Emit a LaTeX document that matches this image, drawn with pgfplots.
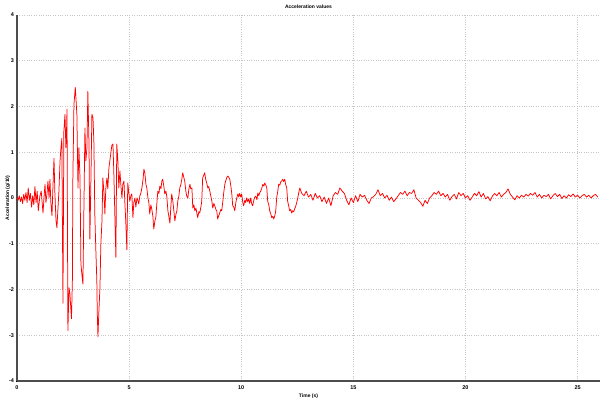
\documentclass[border=0pt]{standalone}
\usepackage{pgfplots}
\pgfplotsset{compat=1.18}
\usepackage{fontspec}
\setmainfont{Liberation Sans}
\pgfplotstableread{
t y
0.00 0.00
0.05 -0.05
0.10 0.05
0.15 -0.08
0.20 0.02
0.25 -0.12
0.30 0.08
0.35 -0.05
0.40 0.12
0.45 -0.10
0.50 0.22
0.55 -0.05
0.60 0.10
0.65 -0.20
0.70 0.05
0.75 -0.15
0.80 0.25
0.85 -0.10
0.90 0.15
0.95 -0.28
1.02 0.04
1.08 0.15
1.16 -0.33
1.21 0.05
1.25 0.30
1.29 -0.10
1.34 0.10
1.38 0.37
1.43 0.00
1.47 0.41
1.51 -0.10
1.56 -0.39
1.60 0.20
1.65 0.87
1.69 0.10
1.74 -0.50
1.78 -0.65
1.83 -0.20
1.87 0.15
1.92 0.81
1.96 1.10
2.00 1.30
2.05 -2.30
2.09 1.46
2.14 1.83
2.18 1.10
2.20 1.25
2.23 1.94
2.27 -2.90
2.32 -1.96
2.36 -2.10
2.43 -2.64
2.47 -1.80
2.49 0.37
2.54 2.05
2.60 2.42
2.67 1.83
2.72 0.22
2.76 1.10
2.81 0.44
2.85 -1.44
2.90 -1.70
2.94 -1.88
3.03 1.53
3.07 0.81
3.12 1.10
3.16 2.33
3.21 1.20
3.25 -0.90
3.30 0.50
3.34 1.83
3.39 1.75
3.43 1.20
3.47 -0.35
3.52 -1.20
3.56 -1.80
3.58 -2.50
3.61 -3.03
3.65 -2.50
3.70 -1.96
3.74 -1.00
3.79 -0.50
3.83 0.44
3.88 0.10
3.92 -0.35
3.96 0.20
4.01 0.44
4.05 0.20
4.10 0.66
4.14 0.81
4.19 1.00
4.23 1.15
4.28 1.18
4.32 0.52
4.37 -0.50
4.41 -1.30
4.45 1.18
4.50 0.80
4.54 0.22
4.59 0.59
4.63 0.30
4.68 0.00
4.72 0.30
4.77 0.37
4.81 -0.10
4.85 -0.50
4.90 -1.13
4.94 0.33
4.99 0.10
5.03 -0.07
5.08 0.05
5.12 0.09
5.17 -0.43
5.21 -0.10
5.26 0.00
5.30 -0.20
5.35 0.00
5.39 -0.05
5.43 -0.13
5.48 0.05
5.52 0.10
5.57 0.22
5.62 0.40
5.66 0.63
5.70 0.55
5.75 0.30
5.79 0.22
5.84 0.00
5.88 -0.10
5.92 -0.35
5.97 -0.15
6.01 -0.24
6.06 -0.40
6.10 -0.68
6.15 -0.50
6.19 -0.43
6.24 -0.10
6.28 0.15
6.33 0.10
6.37 0.26
6.42 0.20
6.46 0.37
6.50 0.41
6.55 0.25
6.59 0.09
6.64 0.15
6.68 0.04
6.73 -0.28
6.77 -0.40
6.82 -0.55
6.86 -0.20
6.90 0.09
6.95 -0.07
7.00 -0.30
7.04 -0.50
7.09 -0.35
7.13 -0.28
7.17 -0.07
7.22 0.05
7.26 0.22
7.31 0.30
7.35 0.41
7.39 0.55
7.44 0.45
7.48 0.37
7.53 0.15
7.57 0.04
7.62 0.00
7.66 0.18
7.71 0.30
7.75 0.20
7.80 0.22
7.84 -0.22
7.89 -0.15
7.93 -0.28
7.98 -0.22
8.02 -0.33
8.06 -0.43
8.11 -0.30
8.15 -0.33
8.20 -0.20
8.24 -0.07
8.28 0.44
8.33 0.50
8.37 0.55
8.42 0.40
8.46 0.33
8.51 0.22
8.55 0.25
8.60 0.15
8.64 0.05
8.69 -0.07
8.73 -0.22
8.78 -0.12
8.82 -0.17
8.87 -0.25
8.91 -0.28
8.95 -0.46
9.00 -0.38
9.04 -0.33
9.09 -0.25
9.13 -0.28
9.18 -0.07
9.22 0.12
9.27 0.30
9.31 0.38
9.35 0.44
9.40 0.48
9.45 0.45
9.49 0.41
9.54 0.25
9.58 0.09
9.62 -0.17
9.67 -0.20
9.71 -0.28
9.76 -0.10
9.80 0.00
9.85 0.09
9.89 0.02
9.93 0.10
9.98 0.02
10.02 0.09
10.07 -0.10
10.11 -0.17
10.16 -0.05
10.20 -0.10
10.24 0.00
10.29 -0.08
10.33 -0.02
10.38 -0.12
10.42 0.00
10.47 -0.13
10.51 -0.17
10.56 -0.05
10.60 0.02
10.65 0.04
10.70 -0.04
10.74 0.11
10.78 0.05
10.83 0.12
10.87 0.15
10.92 0.22
10.96 0.30
11.01 0.26
11.05 0.33
11.10 0.28
11.14 0.22
11.18 -0.07
11.23 -0.15
11.27 -0.28
11.32 -0.35
11.36 -0.43
11.41 -0.40
11.45 -0.46
11.50 -0.38
11.54 -0.28
11.58 0.00
11.63 0.15
11.67 0.30
11.72 0.28
11.76 0.35
11.80 0.37
11.85 0.41
11.89 0.36
11.94 0.41
11.98 0.30
12.03 0.22
12.07 -0.07
12.12 -0.18
12.16 -0.28
12.21 -0.25
12.25 -0.33
12.29 -0.28
12.34 -0.30
12.38 -0.24
12.43 -0.18
12.47 -0.11
12.52 0.00
12.56 0.10
12.61 0.22
12.70 0.10
12.80 0.05
12.90 0.15
13.00 0.02
13.10 0.08
13.20 -0.05
13.30 0.10
13.40 0.00
13.50 0.05
13.60 -0.08
13.70 0.02
13.80 -0.12
13.90 0.00
14.00 -0.17
14.10 0.05
14.20 0.12
14.30 0.08
14.40 0.22
14.50 0.15
14.60 0.10
14.70 -0.05
14.80 -0.15
14.90 0.00
15.00 -0.10
15.10 0.05
15.20 -0.08
15.30 0.08
15.40 0.02
15.50 0.06
15.60 -0.05
15.70 -0.12
15.80 0.00
15.90 0.03
16.00 0.08
16.10 0.18
16.20 0.05
16.30 0.10
16.40 0.00
16.50 0.06
16.60 -0.05
16.70 0.02
16.80 -0.08
16.90 -0.02
17.00 0.05
17.10 0.12
17.20 0.08
17.30 0.15
17.40 0.05
17.50 0.12
17.60 0.10
17.70 0.18
17.80 0.00
17.90 -0.05
18.00 -0.10
18.10 -0.18
18.20 -0.05
18.30 -0.12
18.40 0.00
18.50 0.05
18.60 0.12
18.70 0.08
18.80 0.15
18.90 0.05
19.00 0.10
19.10 0.02
19.20 0.08
19.30 -0.05
19.40 0.03
19.50 0.08
19.60 -0.02
19.70 0.12
19.80 0.05
19.90 0.10
20.00 0.00
20.10 0.05
20.20 -0.05
20.30 0.02
20.40 0.10
20.50 0.05
20.60 0.14
20.70 0.02
20.80 0.10
20.90 -0.02
21.00 0.03
21.10 -0.06
21.20 0.04
21.30 0.10
21.40 0.05
21.50 0.12
21.60 0.02
21.70 0.08
21.80 0.12
21.90 0.20
22.00 0.08
22.10 0.02
22.20 -0.04
22.30 0.05
22.40 0.00
22.50 0.06
22.60 0.02
22.70 0.08
22.80 0.04
22.90 0.10
23.00 0.06
23.10 0.12
23.20 0.02
23.30 0.08
23.40 0.00
23.50 0.06
23.60 0.03
23.70 0.08
23.80 -0.02
23.90 0.05
24.00 0.10
24.10 0.03
24.20 0.08
24.30 -0.01
24.40 0.05
24.50 0.00
24.60 0.07
24.70 0.03
24.80 0.09
24.90 0.02
25.00 0.06
25.10 0.00
25.20 0.05
25.30 0.08
25.40 0.02
25.50 0.06
25.60 0.00
25.70 0.05
25.80 0.08
25.90 0.02
}\acc
\begin{document}
\begin{tikzpicture}[x=1bp,y=1bp]
\begin{axis}[
  at={(17bp,19bp)}, anchor=south west,
  scale only axis, width=583bp, height=366bp,
  xmin=0, xmax=26, ymin=-4, ymax=4,
  xtick={0,5,10,15,20,25}, ytick={-4,-3,-2,-1,0,1,2,3,4},
  axis x line=bottom, axis y line=left,
  axis line style={-, draw=black!70, line width=1.3pt},
  major tick length=2bp, tick style={black, thin},
  grid=major, major grid style={gray!45, dotted, line width=0.7pt},
  tick label style={font=\fontsize{5.5}{6}\selectfont\bfseries},
  /pgf/number format/assume math mode=true,
  xticklabel style={yshift=0bp}, yticklabel style={xshift=1.5bp},
  title={Acceleration values},
  title style={font=\fontsize{5}{6}\selectfont\bfseries, at={(0.5,1)}, anchor=base, yshift=1bp},
  xlabel={Time (s)},
  xlabel style={font=\fontsize{5}{6}\selectfont\bfseries, yshift=2bp},
  ylabel={Acceleration (g/10)},
  ylabel style={font=\fontsize{5}{6}\selectfont\bfseries, yshift=-8bp},
  clip=false,
]
\addplot[red, line width=0.75pt, line join=round] table[x=t,y=y] {\acc};
\end{axis}
\pgfresetboundingbox
\useasboundingbox (0,0) rectangle (608bp,400bp);
\end{tikzpicture}
\end{document}
